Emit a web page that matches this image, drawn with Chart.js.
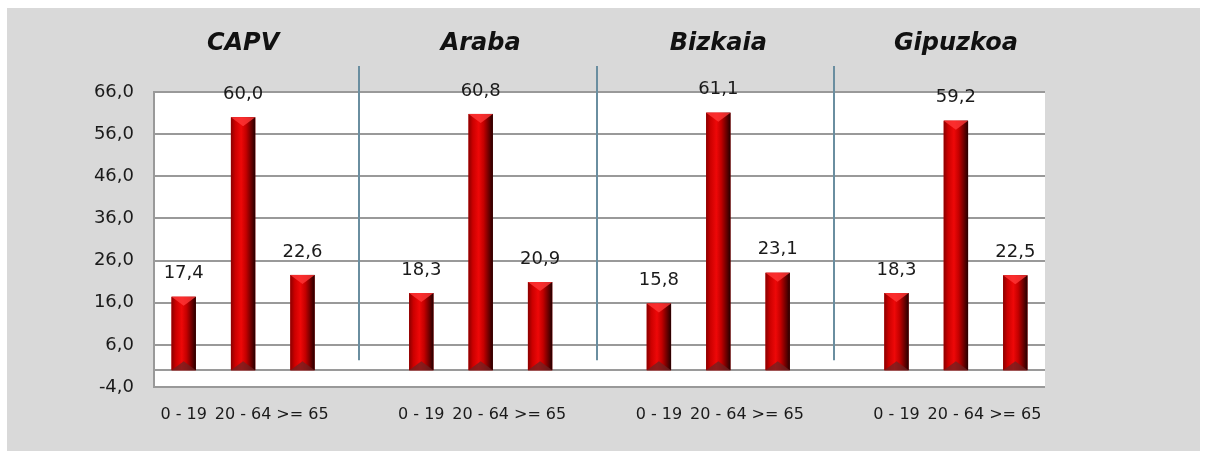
<!DOCTYPE html>
<html>
<head>
<meta charset="utf-8">
<script src="https://cdn.jsdelivr.net/npm/chart.js@4.4.0/dist/chart.umd.min.js"></script>
<style>
  html, body { margin: 0; padding: 0; background: #ffffff; }
  #wrap { width: 1207px; height: 451px; }
</style>
</head>
<body>
<div id="wrap"><canvas id="c" width="1207" height="451"></canvas></div>
<script>
// ---- data ----
const groups = ['CAPV', 'Araba', 'Bizkaia', 'Gipuzkoa'];
const ageBands = ['0 - 19', '20 - 64', '>= 65'];
const capv = [17.4, 60.0, 22.6];
const araba = [18.3, 60.8, 20.9];
const bizkaia = [15.8, 61.1, 23.1];
const gipuzkoa = [18.3, 59.2, 22.5];
const yTicks = { min: -4, max: 66, step: 10 };

// build flat category list with an empty slot between groups
const groupValues = [capv, araba, bizkaia, gipuzkoa];
const labels = [];
const values = [];
const separatorIdx = [];
const groupCenterIdx = [];
groupValues.forEach((vals, g) => {
  if (g > 0) { separatorIdx.push(labels.length); labels.push(''); values.push(null); }
  groupCenterIdx.push(labels.length + 1);
  vals.forEach((v, i) => { labels.push(ageBands[i]); values.push(v); });
});

const fmt = v => v.toFixed(1).replace('.', ',');
const FONT = "'DejaVu Sans'";
Chart.defaults.font.family = FONT;
Chart.defaults.color = '#1a1a1a';

const decor = {
  id: 'decor',
  beforeDraw(chart) {
    const { ctx, chartArea: a } = chart;
    ctx.save();
    ctx.fillStyle = '#d9d9d9';
    ctx.fillRect(7, 8, 1193, 443);
    ctx.fillStyle = '#ffffff';
    ctx.fillRect(a.left, a.top, a.right - a.left, a.bottom - a.top);
    ctx.restore();
  },
  beforeDatasetsDraw(chart) {
    const { ctx, chartArea: a, scales: { y } } = chart;
    const y0 = Math.round(y.getPixelForValue(0));
    ctx.save();
    ctx.strokeStyle = '#9a9a9a';
    ctx.lineWidth = 2;
    ctx.beginPath();
    ctx.moveTo(a.left, y0);
    ctx.lineTo(a.right, y0);
    ctx.stroke();
    ctx.restore();
  },
  afterDatasetsDraw(chart) {
    const { ctx, chartArea: a, scales: { x, y } } = chart;
    const meta = chart.getDatasetMeta(0);
    ctx.save();
    meta.data.forEach((bar, i) => {
      const v = values[i];
      if (v === null || v === undefined) return;
      const w = bar.width, l = bar.x - w / 2, r = bar.x + w / 2;
      const t = bar.y, b = bar.base;
      const g = ctx.createLinearGradient(l, 0, r, 0);
      g.addColorStop(0, '#8a0000');
      g.addColorStop(0.18, '#cc0000');
      g.addColorStop(0.42, '#ee0808');
      g.addColorStop(0.62, '#c40000');
      g.addColorStop(0.84, '#680000');
      g.addColorStop(1, '#240000');
      ctx.fillStyle = g;
      ctx.fillRect(l, t, w, b - t);
      // top bevel
      ctx.fillStyle = 'rgba(255,55,55,0.8)';
      ctx.beginPath();
      ctx.moveTo(l, t); ctx.lineTo(r, t); ctx.lineTo(bar.x, t + 9); ctx.closePath();
      ctx.fill();
      // bottom bevel
      ctx.fillStyle = 'rgba(110,35,35,0.75)';
      ctx.beginPath();
      ctx.moveTo(l, b); ctx.lineTo(r, b); ctx.lineTo(bar.x, b - 9); ctx.closePath();
      ctx.fill();
      // value label
      ctx.fillStyle = '#1a1a1a';
      ctx.font = '18px ' + FONT;
      ctx.textAlign = 'center';
      ctx.textBaseline = 'middle';
      ctx.fillText(fmt(v), bar.x, t - 23);
    });
    // separators
    ctx.strokeStyle = '#6a8ea0';
    ctx.lineWidth = 2;
    const yb = y.getPixelForValue(0) - 10;
    separatorIdx.forEach(idx => {
      const px = Math.round(x.getPixelForValue(idx)) - 3;
      ctx.beginPath();
      ctx.moveTo(px, a.top - 26);
      ctx.lineTo(px, yb);
      ctx.stroke();
    });
    // group titles
    ctx.fillStyle = '#111111';
    ctx.font = 'italic bold 24px ' + FONT;
    ctx.textAlign = 'center';
    ctx.textBaseline = 'middle';
    groups.forEach((name, gI) => {
      ctx.fillText(name, x.getPixelForValue(groupCenterIdx[gI]), a.top - 48);
    });
    ctx.restore();
  }
};

new Chart(document.getElementById('c'), {
  type: 'bar',
  data: {
    labels: labels,
    datasets: [{
      data: values,
      backgroundColor: '#cc0000',
      borderWidth: 0,
      barPercentage: 0.41,
      categoryPercentage: 1.0
    }]
  },
  options: {
    responsive: false,
    animation: false,
    devicePixelRatio: 1,
    layout: { padding: { left: 0, right: 162, top: 92, bottom: 24 } },
    plugins: { legend: { display: false }, tooltip: { enabled: false }, title: { display: false } },
    scales: {
      x: {
        grid: { display: false },
        border: { display: false },
        ticks: { font: { size: 16 }, color: '#1a1a1a', padding: 10, maxRotation: 0, autoSkip: false },
        afterFit(s) { s.height = 40; }
      },
      y: {
        min: yTicks.min,
        max: yTicks.max,
        grid: { color: '#999999', lineWidth: 2, drawTicks: false },
        border: { display: true, color: '#999999', width: 2 },
        ticks: {
          stepSize: yTicks.step,
          font: { size: 18 },
          color: '#1a1a1a',
          padding: 20,
          callback: v => fmt(v)
        },
        afterFit(s) { s.width = 154; }
      }
    }
  },
  plugins: [decor]
});
</script>
</body>
</html>
